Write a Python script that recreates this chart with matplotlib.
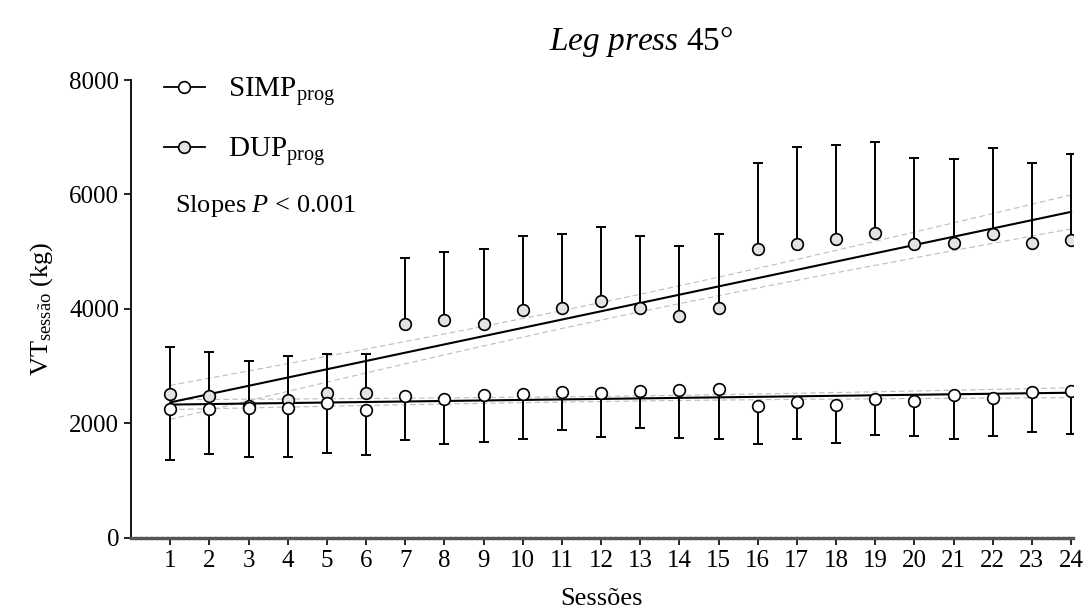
import numpy as np
import matplotlib
matplotlib.use('Agg')
import matplotlib.pyplot as plt
from matplotlib.lines import Line2D

plt.rcParams['font.family'] = ['Liberation Serif', 'DejaVu Serif']
plt.rcParams['mathtext.fontset'] = 'custom'
plt.rcParams['mathtext.rm'] = 'Liberation Serif'
plt.rcParams['mathtext.it'] = 'Liberation Serif:italic'

# Dados (média e DP por sessão)
sessoes = np.arange(1, 25)
simp_media = [2258, 2258, 2276, 2276, 2363, 2241, 2486, 2433, 2503, 2521, 2556, 2538,
              2573, 2591, 2608, 2311, 2381, 2328, 2433, 2398, 2503, 2451, 2556, 2573]
simp_dp = [893, 788, 858, 858, 875, 788, 770, 787, 822, 788, 665, 770,
           647, 840, 875, 665, 648, 665, 630, 612, 770, 665, 700, 752]
dup_media = [2521, 2486, 2300, 2416, 2538, 2538, 3746, 3816, 3746, 3974, 4009, 4131,
             4026, 3886, 4009, 5042, 5129, 5217, 5322, 5129, 5147, 5304, 5147, 5199]
dup_dp = [823, 770, 799, 770, 683, 683, 1138, 1173, 1294, 1295, 1295, 1296,
          1243, 1208, 1295, 1505, 1698, 1645, 1593, 1506, 1470, 1506, 1400, 1506]


def reta_ic(x, y):
    x = np.asarray(x, float)
    y = np.asarray(y, float)
    b, a = np.polyfit(x, y, 1)
    xs = np.linspace(x.min(), x.max(), 100)
    yhat = a + b * xs
    res = y - (a + b * x)
    s = np.sqrt(np.sum(res ** 2) / (len(x) - 2))
    se = s * np.sqrt(1 / len(x) + (xs - x.mean()) ** 2 / np.sum((x - x.mean()) ** 2))
    return xs, yhat, yhat - 2.074 * se, yhat + 2.074 * se


fig = plt.figure(figsize=(10.89, 6.14), dpi=100)
ax = fig.add_axes([0.1203, 0.1238, 0.865, 0.7459])

for media in (dup_media, simp_media):
    xs, yhat, lo, hi = reta_ic(sessoes, media)
    ax.plot(xs, yhat, color='black', lw=1.5, zorder=2)
    ax.plot(xs, lo, color='#bdbdbd', lw=0.8, ls=(0, (5, 3)), zorder=1)
    ax.plot(xs, hi, color='#bdbdbd', lw=0.8, ls=(0, (5, 3)), zorder=1)

ax.errorbar(sessoes, dup_media, yerr=[np.zeros(24), dup_dp], fmt='none',
            ecolor='black', elinewidth=1.4, capsize=3.3, capthick=1.4, zorder=3)
ax.errorbar(sessoes, simp_media, yerr=[simp_dp, np.zeros(24)], fmt='none',
            ecolor='black', elinewidth=1.4, capsize=3.3, capthick=1.4, zorder=3)
ax.plot(sessoes, dup_media, 'o', ms=8.4, mfc='#e3e3e3', mec='black', mew=1.2, zorder=4)
ax.plot(sessoes, simp_media, 'o', ms=8.4, mfc='white', mec='black', mew=1.2, zorder=5)

ax.set_xlim(0, 24.05)
ax.set_ylim(0, 8000)
ax.set_xticks(sessoes)
ax.set_yticks([0, 2000, 4000, 6000, 8000])
ax.tick_params(axis='both', labelsize=18, direction='out', length=5, width=1.2)
ax.spines['top'].set_visible(False)
ax.spines['right'].set_visible(False)
ax.spines['left'].set_linewidth(1.3)
ax.spines['bottom'].set_linewidth(2.4)
ax.spines['bottom'].set_color('#555555')
ax.spines['bottom'].set_linestyle((0, (1, 0.6)))

ax.set_xlabel('Sessões', fontsize=19, labelpad=12)
ax.set_ylabel(r'VT$_{\mathrm{sessão}}$ (kg)', fontsize=19, labelpad=10)

fig.text(0.589, 0.933, r'$\mathit{Leg\ press}$ 45°', fontsize=24, ha='center', va='center')

h_simp = Line2D([], [], color='black', lw=1.3, marker='o', ms=8.4, mfc='white', mec='black', mew=1.2)
h_dup = Line2D([], [], color='black', lw=1.3, marker='o', ms=8.4, mfc='#e3e3e3', mec='black', mew=1.2)
ax.legend([h_simp, h_dup], [r'SIMP$_{\mathrm{prog}}$', r'DUP$_{\mathrm{prog}}$'],
          loc='upper left', bbox_to_anchor=(0.035, 1.01), frameon=False, fontsize=21,
          handlelength=1.4, handletextpad=0.8, labelspacing=0.91, borderpad=0, borderaxespad=0)
ax.text(0.047, 0.725, r'Slopes $\mathit{P}$ < 0.001', transform=ax.transAxes,
        fontsize=19, ha='left', va='center')

fig.savefig('out.png', dpi=100)
